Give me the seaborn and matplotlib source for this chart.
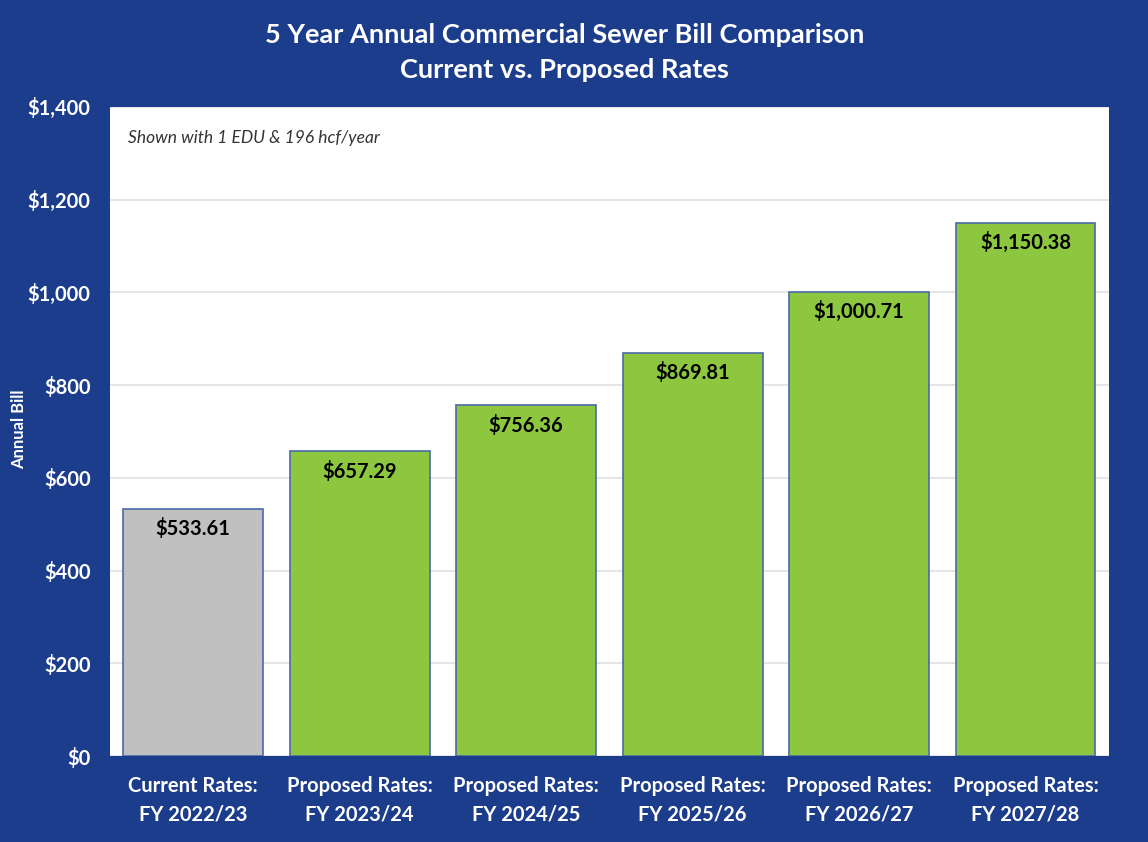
import matplotlib
matplotlib.use("Agg")
import matplotlib.pyplot as plt
import seaborn as sns
import pandas as pd

categories = ["Current Rates:\nFY 2022/23", "Proposed Rates:\nFY 2023/24", "Proposed Rates:\nFY 2024/25",
              "Proposed Rates:\nFY 2025/26", "Proposed Rates:\nFY 2026/27", "Proposed Rates:\nFY 2027/28"]
values = [533.61, 657.29, 756.36, 869.81, 1000.71, 1150.38]
bar_colors = ["#c0c0c0", "#8dc63f", "#8dc63f", "#8dc63f", "#8dc63f", "#8dc63f"]
yticks = [0, 200, 400, 600, 800, 1000, 1200, 1400]

sns.set_theme(style="white")
plt.rcParams['font.family'] = ['Lato', 'DejaVu Sans']

navy = "#1c3c8c"
df = pd.DataFrame({"cat": categories, "val": values})

fig = plt.figure(figsize=(11.48, 8.42), dpi=100, facecolor=navy)
ax = fig.add_axes([0.0958, 0.102, 0.870, 0.771])
ax.set_facecolor("white")
sns.barplot(data=df, x="cat", y="val", hue="cat", palette=bar_colors, legend=False, saturation=1,
            width=0.84, edgecolor="#4a6aa8", linewidth=1.2, ax=ax, zorder=3)
ax.set_ylim(0, 1400)
ax.set_yticks(yticks)
ax.set_yticklabels([f"${v:,}" for v in yticks], color="white", fontsize=14.5, fontweight="bold")
ax.set_xlim(-0.5, len(categories) - 0.5)
ax.tick_params(axis="x", colors="white", labelsize=14.5, length=0, pad=14)
for lab in ax.get_xticklabels():
    lab.set_fontweight("bold")
    lab.set_linespacing(1.55)
ax.tick_params(axis="y", length=0, pad=14)
ax.yaxis.grid(True, color="#e0e0e0", linewidth=1.2, zorder=0)
ax.set_axisbelow(True)
for s in ax.spines.values():
    s.set_visible(False)
ax.set_xlabel("")
ax.set_ylabel("")
fig.text(0.017, 0.49, "Annual Bill", rotation=90, ha="center", va="center",
         color="white", fontsize=12, fontweight="bold")

for i, v in enumerate(values):
    ax.text(i, v - 20, f"${v:,.2f}", ha="center", va="top", fontsize=14.5, fontweight="bold", color="black", zorder=5)

ax.text(0.018, 0.952, "Shown with 1 EDU & 196 hcf/year", transform=ax.transAxes, ha="left", va="center",
        fontsize=12.5, style="italic", color="#333333")

fig.text(0.492, 0.958, "5 Year Annual Commercial Sewer Bill Comparison", ha="center", va="center",
         fontsize=19.5, fontweight="bold", color="white")
fig.text(0.492, 0.917, "Current vs. Proposed Rates", ha="center", va="center",
         fontsize=19.5, fontweight="bold", color="white")

fig.savefig("out.png", dpi=100, facecolor=navy)
